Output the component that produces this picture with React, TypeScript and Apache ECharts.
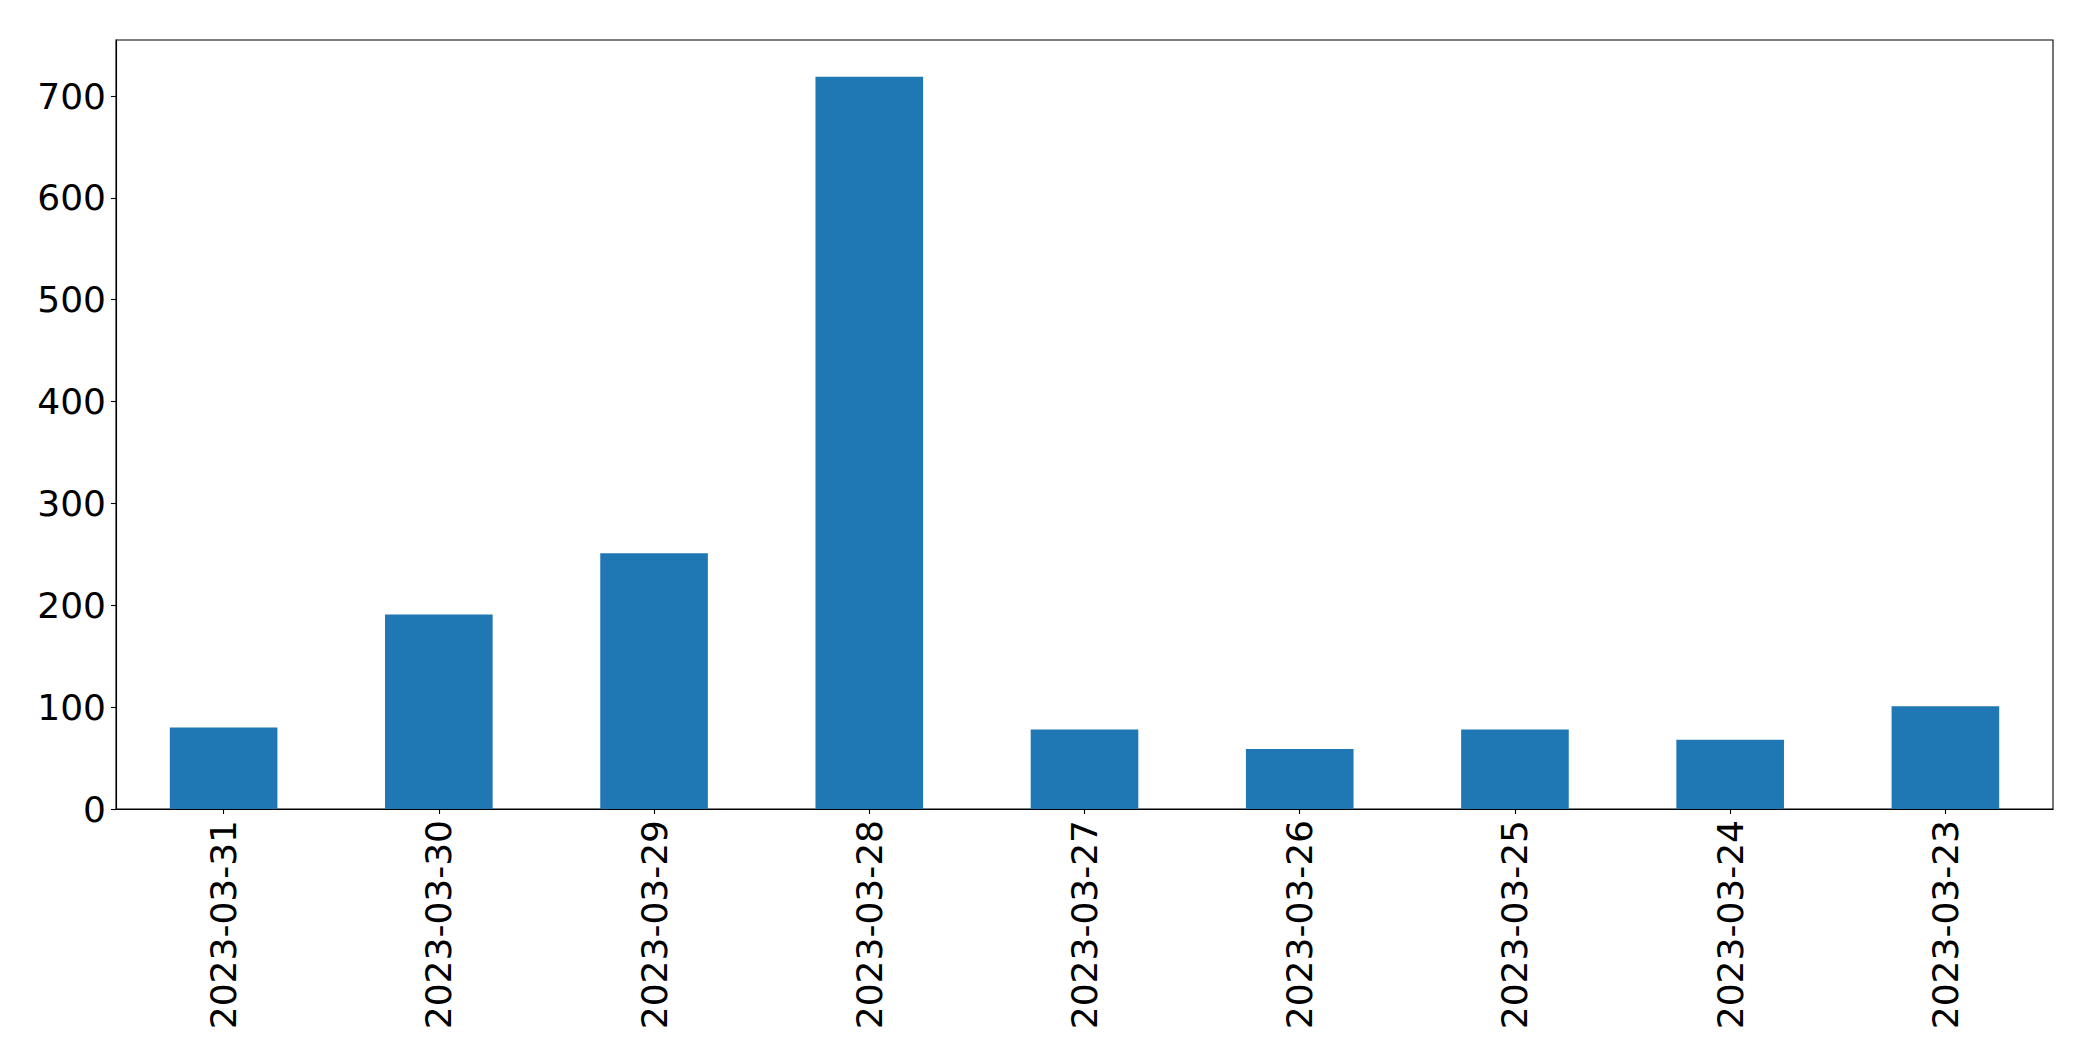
import React, { useEffect, useRef } from "react";
import * as echarts from "echarts";

const categories = [
  "2023-03-31",
  "2023-03-30",
  "2023-03-29",
  "2023-03-28",
  "2023-03-27",
  "2023-03-26",
  "2023-03-25",
  "2023-03-24",
  "2023-03-23",
];
const values = [80, 191, 251, 719, 78, 59, 78, 68, 101];
const yMin = 0;
const yMax = 755;
const yInterval = 100;

export default function App() {
  const ref = useRef<HTMLDivElement>(null);
  useEffect(() => {
    document.body.style.margin = "0";
    if (!ref.current) return;
    const chart = echarts.init(ref.current, undefined, { renderer: "svg" });
    const font = "DejaVu Sans";
    chart.setOption({
      animation: false,
      backgroundColor: "#ffffff",
      grid: {
        left: 116,
        right: 40,
        top: 40,
        bottom: 252,
        show: true,
        borderColor: "#000000",
        borderWidth: 1.1,
        backgroundColor: "transparent",
      },
      xAxis: {
        type: "category",
        data: categories,
        axisLine: { show: true, lineStyle: { color: "#000000", width: 1.1 } },
        axisTick: {
          show: true,
          alignWithLabel: true,
          length: 5,
          lineStyle: { color: "#000000", width: 1.1 },
        },
        axisLabel: {
          rotate: 90,
          interval: 0,
          margin: 11,
          color: "#000000",
          fontFamily: font,
          fontSize: 36,
        },
        splitLine: { show: false },
      },
      yAxis: {
        type: "value",
        min: yMin,
        max: yMax,
        interval: yInterval,
        axisLine: { show: true, lineStyle: { color: "#000000", width: 1.1 } },
        axisTick: {
          show: true,
          length: 5,
          lineStyle: { color: "#000000", width: 1.1 },
        },
        axisLabel: {
          showMaxLabel: false,
          margin: 10,
          color: "#000000",
          fontFamily: font,
          fontSize: 36,
        },
        splitLine: { show: false },
      },
      series: [
        {
          type: "bar",
          data: values,
          barWidth: "50%",
          itemStyle: { color: "#1f77b4" },
        },
      ],
    });
    return () => chart.dispose();
  }, []);
  return <div ref={ref} style={{ width: 2093, height: 1061 }} />;
}
